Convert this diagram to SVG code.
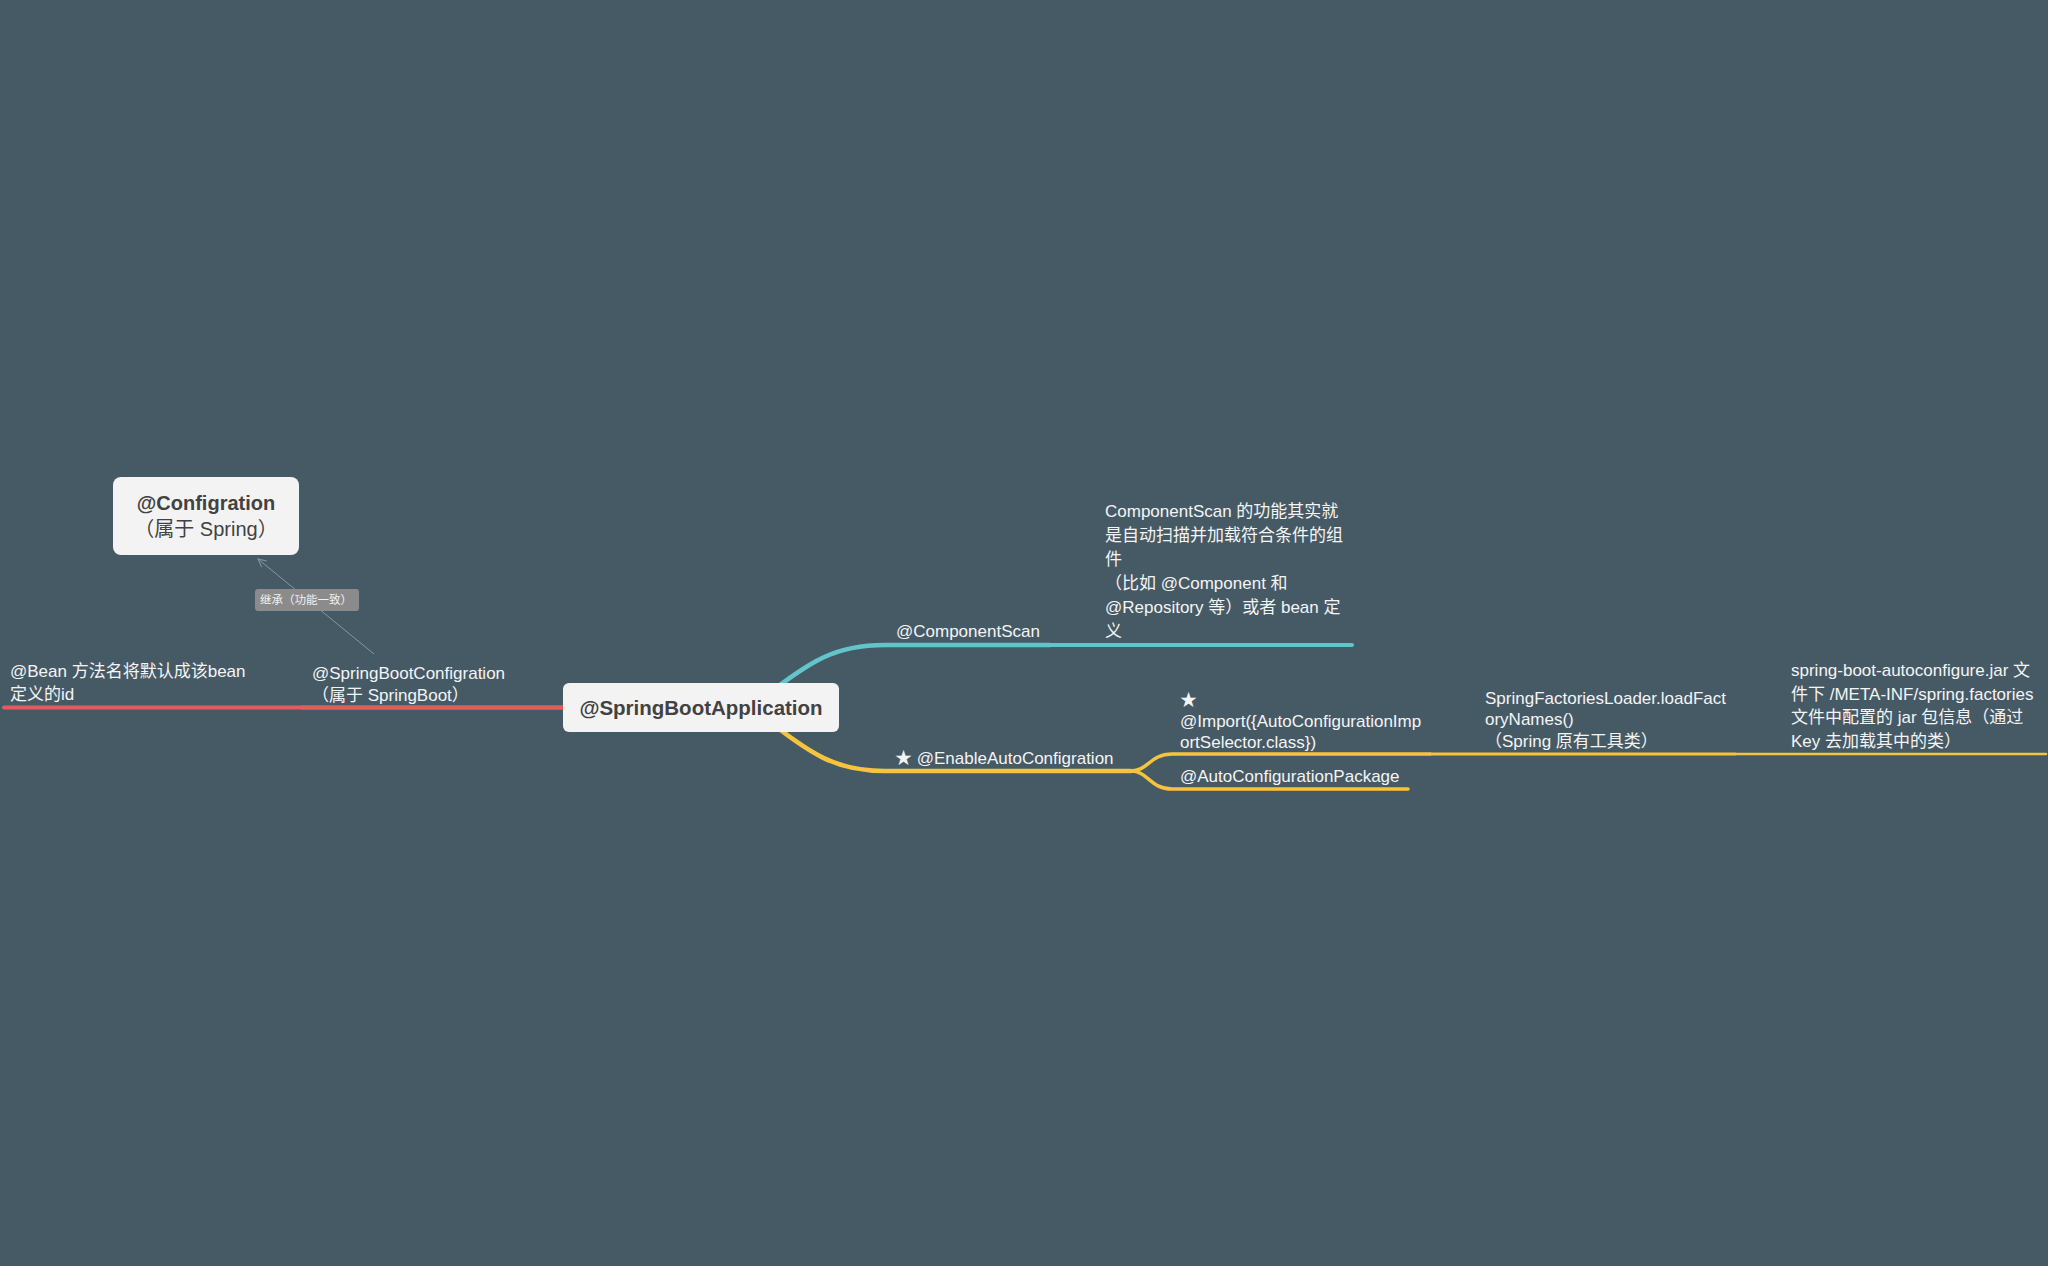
<svg xmlns="http://www.w3.org/2000/svg" width="2048" height="1266" viewBox="0 0 2048 1266">
  <defs>
    <style>
      .bg { fill: #465a66; }
      .topic { fill: #f3f3f3; }
      .topic-text { font-family: "Liberation Sans", "Noto Sans CJK SC", sans-serif; fill: #424242; }
      .label { font-family: "Liberation Sans", "Noto Sans CJK SC", sans-serif; font-size: 17px; fill: #f4f4f4; }
      .branch { fill: none; stroke-linecap: round; stroke-linejoin: round; }
      .red { stroke: #e8595f; }
      .cyan { stroke: #62c5cc; }
      .yellow { stroke: #f6c33d; }
      .rel { fill: none; stroke: #8596a0; stroke-width: 1; }
      .rel-tag { fill: #8b8b8b; }
      .rel-text { font-family: "Noto Sans CJK SC", "Liberation Sans", sans-serif; font-size: 11.5px; fill: #f0f0f0; }
    </style>
    <marker id="open-arrow" viewBox="0 0 10 10" refX="9" refY="5" markerWidth="10" markerHeight="10" markerUnits="userSpaceOnUse" orient="auto">
      <path d="M1 1 L9 5 L1 9" fill="none" stroke="#8596a0" stroke-width="1"/>
    </marker>
  </defs>

  <rect class="bg" x="0" y="0" width="2048" height="1266"/>

  <!-- branch lines and the relationship arrow -->
  <g id="connectors">
    <!-- left: red branch -->
    <path class="branch red" d="M4 707.5 H303" stroke-width="4"/>
    <path class="branch red" d="M303 707.5 H600" stroke-width="4.5"/>
    <!-- right: cyan branch -->
    <path class="branch cyan" d="M760 700 C812 660 835 645 885 645 H1050" stroke-width="4.5"/>
    <path class="branch cyan" d="M1050 645 H1352" stroke-width="4"/>
    <!-- right: yellow branch -->
    <path class="branch yellow" d="M760 714 C812 755 835 771 885 771 H1131" stroke-width="4.5"/>
    <path class="branch yellow" d="M1131 771 C1148 771 1150 754 1172 754 H1430" stroke-width="3.5"/>
    <path class="branch yellow" d="M1430 754 H1735" stroke-width="3"/>
    <path class="branch yellow" d="M1735 754 H2046" stroke-width="2.5"/>
    <path class="branch yellow" d="M1131 771 C1148 771 1150 789 1172 789 H1408" stroke-width="3.5"/>
    <!-- relationship: SpringBootConfigration -> Configration -->
    <path class="rel" d="M374 654 L258 559" marker-end="url(#open-arrow)"/>
    <rect class="rel-tag" x="255" y="589" width="104" height="22" rx="3"/>
    <text class="rel-text" x="260" y="604">继承（功能一致）</text>
  </g>

  <g id="root">
    <rect class="topic" x="563" y="683" width="276" height="49" rx="6"/>
    <text class="topic-text" x="701" y="715" font-size="20.5" font-weight="bold" text-anchor="middle">@SpringBootApplication</text>
  </g>

  <g id="configration">
    <rect class="topic" x="113" y="477" width="186" height="78" rx="8"/>
    <text class="topic-text" x="206" y="510" font-size="20" font-weight="bold" text-anchor="middle">@Configration</text>
    <text class="topic-text" x="206" y="536" font-size="20" text-anchor="middle">（属于 Spring）</text>
  </g>

  <g id="spring-boot-configration">
    <text class="label" x="312" y="679">@SpringBootConfigration</text>
    <text class="label" x="312" y="701">（属于 SpringBoot）</text>
  </g>

  <g id="bean-note">
    <text class="label" x="10" y="677">@Bean 方法名将默认成该bean</text>
    <text class="label" x="10" y="700">定义的id</text>
  </g>

  <g id="component-scan">
    <text class="label" x="896" y="637">@ComponentScan</text>
  </g>

  <g id="component-scan-note">
    <text class="label" x="1105" y="517">ComponentScan 的功能其实就</text>
    <text class="label" x="1105" y="541">是自动扫描并加载符合条件的组</text>
    <text class="label" x="1105" y="565">件</text>
    <text class="label" x="1105" y="589">（比如 @Component 和</text>
    <text class="label" x="1105" y="613">@Repository 等）或者 bean 定</text>
    <text class="label" x="1105" y="637">义</text>
  </g>

  <g id="enable-auto-configration">
    <text class="label" x="895" y="764">★ @EnableAutoConfigration</text>
  </g>

  <g id="import-selector">
    <text class="label" x="1180" y="706">★</text>
    <text class="label" x="1180" y="727">@Import({AutoConfigurationImp</text>
    <text class="label" x="1180" y="748">ortSelector.class})</text>
  </g>

  <g id="auto-configuration-package">
    <text class="label" x="1180" y="782">@AutoConfigurationPackage</text>
  </g>

  <g id="factories-loader">
    <text class="label" x="1485" y="704">SpringFactoriesLoader.loadFact</text>
    <text class="label" x="1485" y="725">oryNames()</text>
    <text class="label" x="1485" y="747">（Spring 原有工具类）</text>
  </g>

  <g id="spring-factories">
    <text class="label" x="1791" y="676">spring-boot-autoconfigure.jar 文</text>
    <text class="label" x="1791" y="700">件下 /META-INF/spring.factories</text>
    <text class="label" x="1791" y="723">文件中配置的 jar 包信息（通过</text>
    <text class="label" x="1791" y="747">Key 去加载其中的类）</text>
  </g>
</svg>
